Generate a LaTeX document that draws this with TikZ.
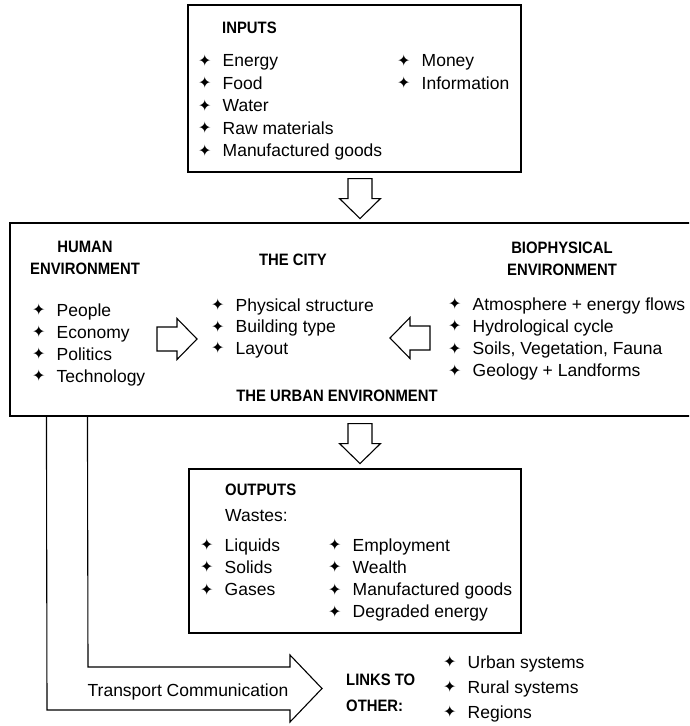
\documentclass[tikz,border=0pt]{standalone}
\usepackage{fontspec}
\setmainfont{Liberation Sans}
\newfontfamily\headfont[FakeStretch=0.9]{Liberation Sans}
\newfontfamily\starfont{DejaVu Sans}
\usetikzlibrary{calc}

\newcommand{\itm}{\makebox[24.5pt][l]{\raisebox{0.5pt}{\starfont\fontsize{16}{16}\selectfont ✦}}}
\newcommand{\lst}[1]{\begin{tabular}[t]{@{}l@{}}#1\end{tabular}}
\newcommand{\ctr}[1]{\begin{tabular}[t]{@{}c@{}}#1\end{tabular}}

\tikzset{
  box/.style={draw, line width=1.1pt, inner sep=0pt},
  title/.style={font=\headfont\bfseries\fontsize{16.5}{22}\selectfont, inner sep=0pt},
  items/.style={font=\fontsize{17.5}{#1}\selectfont, inner sep=0pt, anchor=base west},
  items/.default=22.5,
  fat/.style={draw, line width=1.1pt, line join=miter},
  pics/fatarrow/.style={code={
    \draw[fat, fill=white] (0,-12) -- (20,-12) -- (20,-20.5) -- (40,0) -- (20,20.5) -- (20,12) -- (0,12) -- cycle;}},
}

\begin{document}
\begin{tikzpicture}[x=1pt, y=-1pt]
\useasboundingbox (0,0) rectangle (689,726);
\clip (0,0) rectangle (689,726);

% the three boxes
\node[box, minimum width=333pt, minimum height=167pt] (inputs) at (354.5,88.5) {};
\node[box, minimum width=690pt, minimum height=193pt] (urban) at (355,319.5) {};
\node[box, minimum width=332pt, minimum height=164pt] (outputs) at (355,551) {};

% inputs
\node[title, anchor=base west] (intitle) at (222,33) {INPUTS};
\node[items] (inlist) at (198,66.5) {\lst{\itm Energy\\ \itm Food\\ \itm Water\\ \itm Raw materials\\ \itm Manufactured goods}};
\node[items] (inlist2) at (397,66.5) {\lst{\itm Money\\ \itm Information}};

% urban environment
\node[title, anchor=base] (human) at (85,252.5) {\ctr{HUMAN\\ ENVIRONMENT}};
\node[title, anchor=base] (city) at (293,265.5) {THE CITY};
\node[title, anchor=base] (bio) at (562,253.5) {\ctr{BIOPHYSICAL\\ ENVIRONMENT}};
\node[items=22] (humanlist) at (32,316) {\lst{\itm People\\ \itm Economy\\ \itm Politics\\ \itm Technology}};
\node[items=21.5] (citylist) at (211,311) {\lst{\itm Physical structure\\ \itm Building type\\ \itm Layout}};
\node[items=22.3] (biolist) at (448,310) {\lst{\itm Atmosphere + energy flows\\ \itm Hydrological cycle\\ \itm Soils, Vegetation, Fauna\\ \itm Geology + Landforms}};
\node[title, anchor=base] (urbantitle) at (337,401.5) {THE URBAN ENVIRONMENT};

% block arrows
\pic at (157,339) {fatarrow};
\pic[rotate=180] at (430,338) {fatarrow};
\pic[rotate=-90] at ($(inputs.south)+(5.5,6)$) {fatarrow};
\pic[rotate=-90] at ($(urban.south)+(5,7)$) {fatarrow};

% outputs
\node[title, anchor=base west] (outtitle) at (225,495.5) {OUTPUTS};
\node[items] (wastes) at (225,521) {Wastes:};
\node[items=22.3] (outlist) at (200,551) {\lst{\itm Liquids\\ \itm Solids\\ \itm Gases}};
\node[items=22.3] (outlist2) at (328,551) {\lst{\itm Employment\\ \itm Wealth\\ \itm Manufactured goods\\ \itm Degraded energy}};

% links to other systems
\coordinate (outer) at ($(urban.south west)+(37,0)$);
\coordinate (inner) at ($(urban.south west)+(78,0)$);
\draw[fat] (outer) -- (47,710) -- (290,710) -- (290,722) -- (322,688.5) -- (290,655) -- (290,667) -- (88,667) -- (inner);
\node[items, anchor=base] (transport) at (188,696) {Transport Communication};
\node[title, anchor=base west, font=\headfont\bfseries\fontsize{16.5}{26}\selectfont] (links) at (346,685.5) {\lst{LINKS TO\\ OTHER:}};
\node[items=25] (linklist) at (443,668) {\lst{\itm Urban systems\\ \itm Rural systems\\ \itm Regions}};
\end{tikzpicture}
\end{document}
